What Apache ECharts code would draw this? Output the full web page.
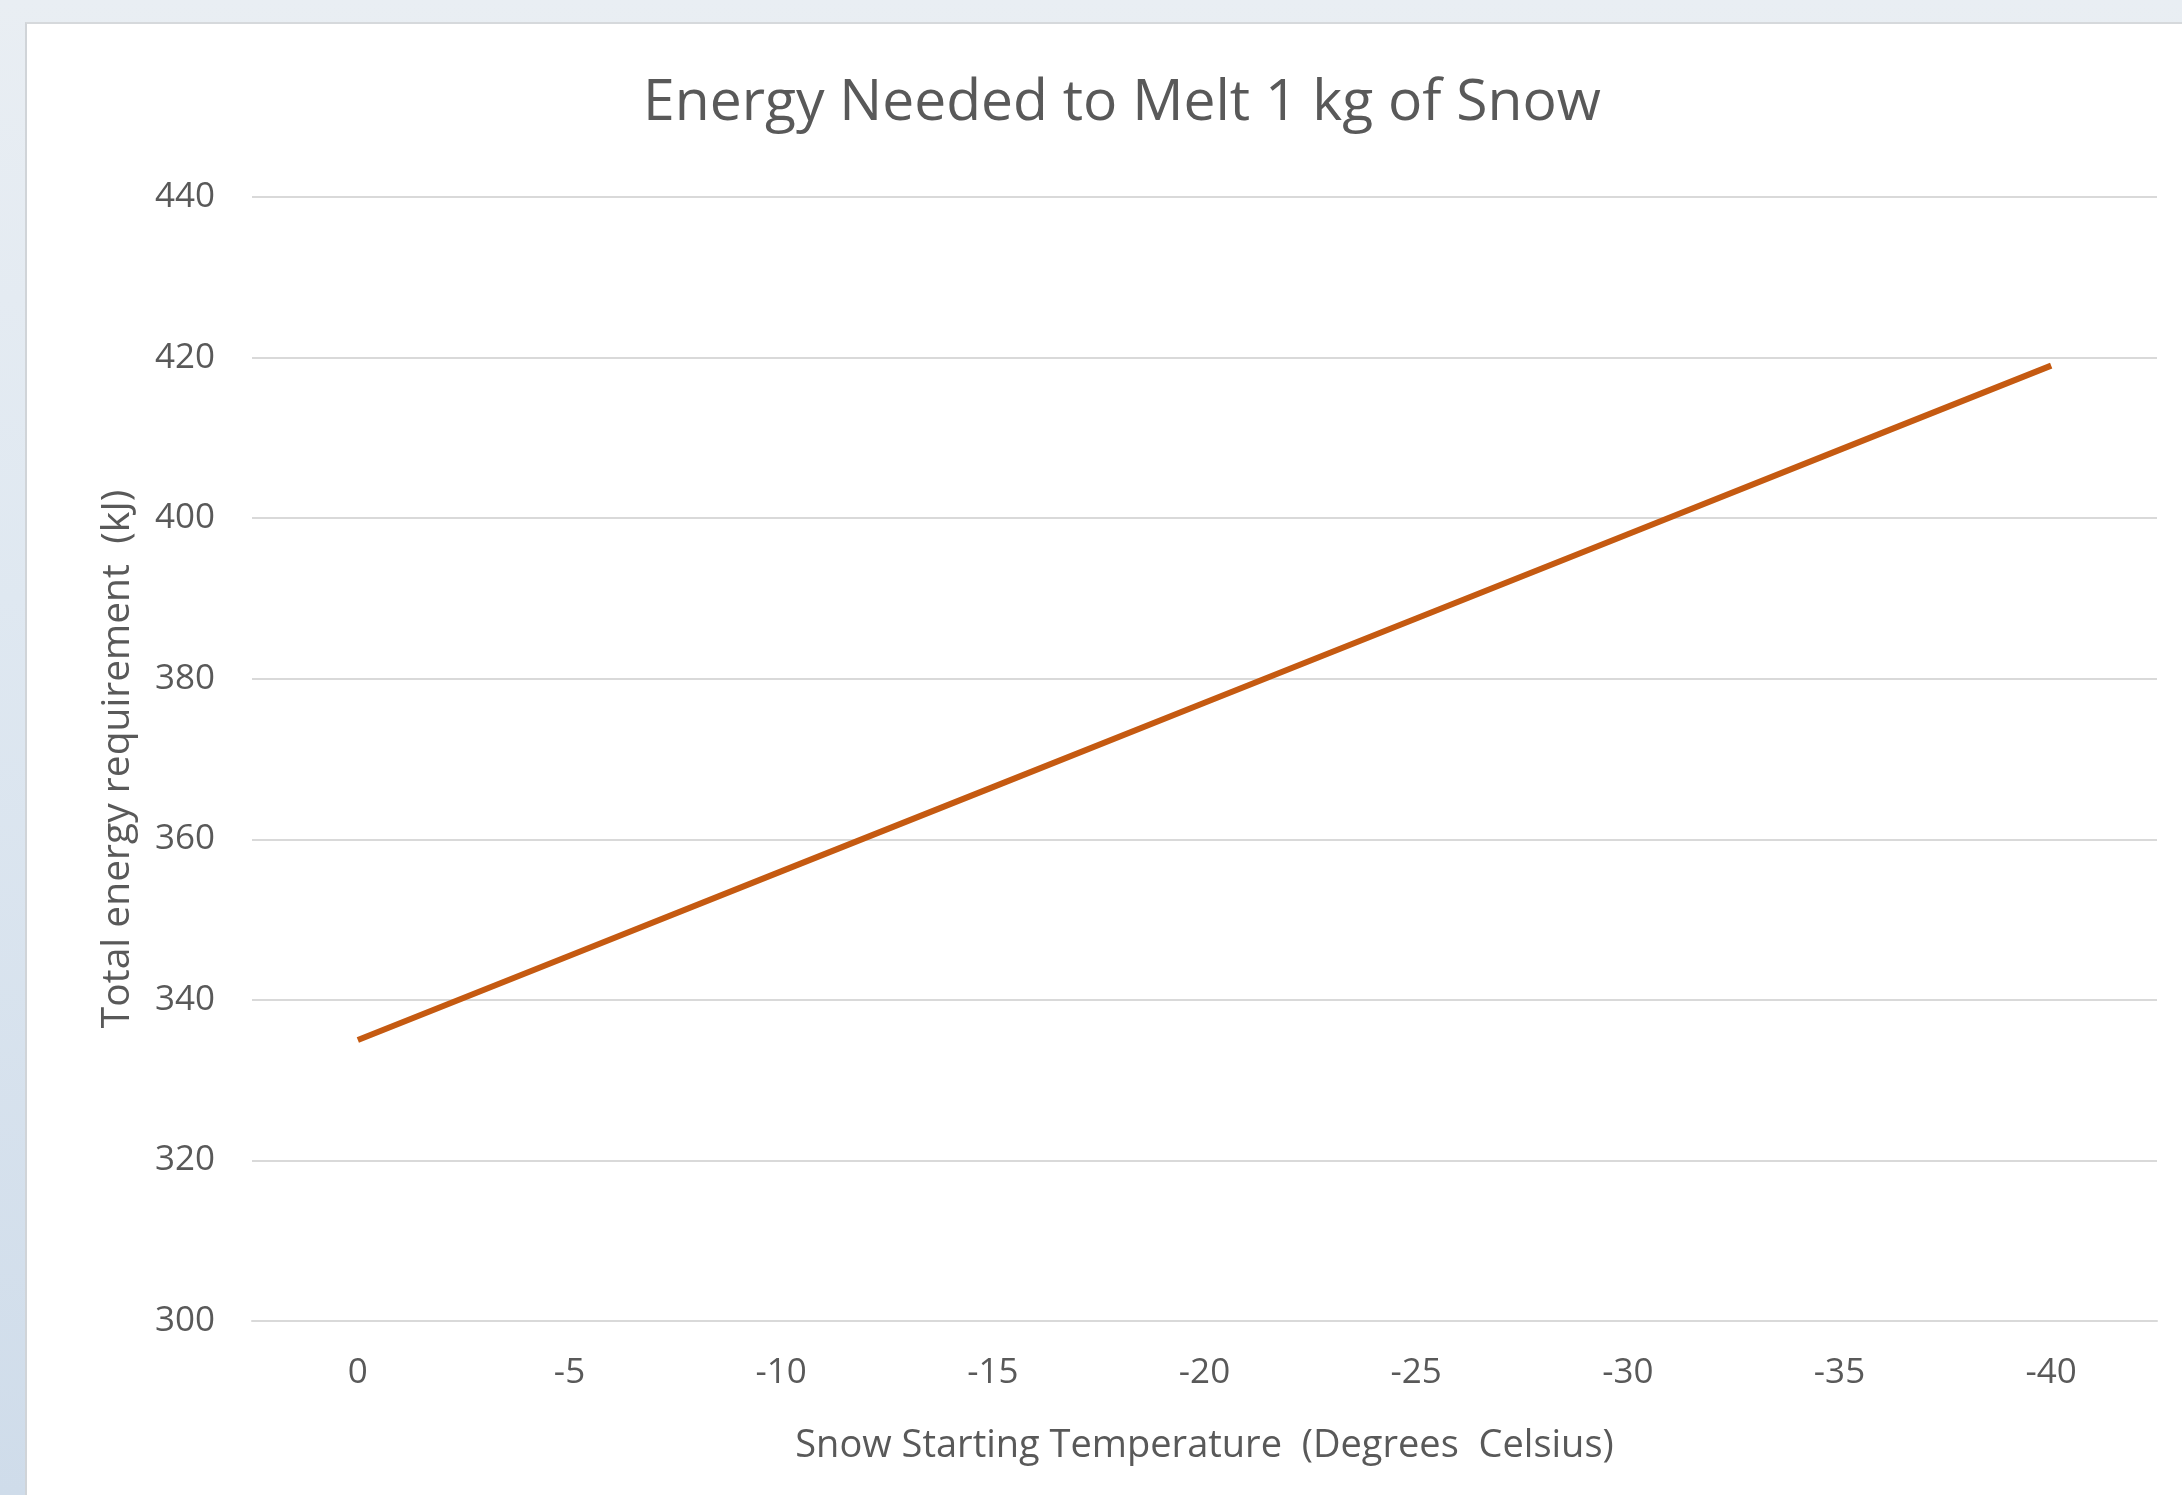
<!DOCTYPE html>
<html>
<head>
<meta charset="utf-8">
<script src="https://cdn.jsdelivr.net/npm/echarts@6/dist/echarts.min.js"></script>
<style>
html,body{margin:0;padding:0;width:2182px;height:1495px;overflow:hidden;
	background:linear-gradient(180deg,#e9eef3 0%,#dfe8f1 40%,#cfdcea 100%);}
#main{position:absolute;left:25px;top:22px;width:2157px;height:1473px;background:#fff;
	border-left:2px solid #d0d4d8;border-top:2px solid #d6d9dc;box-sizing:border-box;}
</style>
</head>
<body>
<div id="main"></div>
<script>
// 雪的起始温度（摄氏度）
var temps=['0','-5','-10','-15','-20','-25','-30','-35','-40'];
// 融化1kg雪所需总能量 (kJ)
var energy=[335,345.5,356,366.5,377,387.5,398,408.5,419];
var yTicks={min:300,max:440,interval:20};

var font='"Open Sans", "Noto Sans", sans-serif';
var myChart=echarts.init(document.getElementById('main'));
var option={
	backgroundColor:'#fff',
	title:{
		text:'Energy Needed to Melt 1 kg of Snow',
		left:1090,
		textAlign:'center',
		top:46,
		textStyle:{fontFamily:font,fontSize:57,fontWeight:'normal',color:'#595959'}
	},
	grid:{left:225,right:25,top:173,bottom:174,containLabel:false},
	xAxis:{
		type:'category',
		data:temps,
		boundaryGap:true,
		name:'Snow Starting Temperature  (Degrees  Celsius)',
		nameLocation:'middle',
		nameGap:106,
		nameTextStyle:{fontFamily:font,fontSize:38,color:'#595959'},
		axisLine:{show:true,lineStyle:{color:'#d9d9d9',width:2}},
		axisTick:{show:false},
		axisLabel:{fontFamily:font,fontSize:35,color:'#595959',margin:35}
	},
	yAxis:{
		type:'value',
		min:yTicks.min,
		max:yTicks.max,
		interval:yTicks.interval,
		name:'Total energy requirement  (kJ)',
		nameLocation:'middle',
		nameRotate:90,
		nameGap:115,
		nameTextStyle:{fontFamily:font,fontSize:39,color:'#595959'},
		axisLine:{show:false},
		axisTick:{show:false},
		axisLabel:{fontFamily:font,fontSize:35,color:'#595959',margin:37},
		splitLine:{lineStyle:{color:'#d9d9d9',width:2}}
	},
	series:[{
		type:'line',
		data:energy,
		symbol:'none',
		lineStyle:{color:'#c55a11',width:6},
		animation:false
	}]
};
myChart.setOption(option);
</script>
</body>
</html>
